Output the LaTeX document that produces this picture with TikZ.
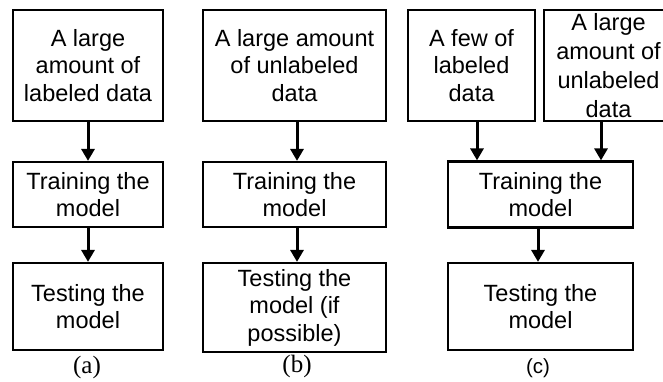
\documentclass[tikz,border=0pt]{standalone}
\usepackage{fontspec}
\setmainfont{Liberation Sans}
\newfontfamily\capserif{Liberation Serif}
\usetikzlibrary{arrows.meta}
\tikzset{
  stepbox/.style={draw, line width=2.2pt, align=center, inner sep=0pt,
    font=\fontsize{23.5}{27.5}\selectfont},
  flow/.style={line width=3pt, -{Triangle[width=13pt,length=12pt]}},
  serifcap/.style={inner sep=0pt, font=\capserif\fontsize{25}{27}\selectfont},
  sanscap/.style={inner sep=0pt, font=\fontsize{20.5}{24}\selectfont},
}
\begin{document}
\begin{tikzpicture}[x=1pt, y=-1pt]
\clip (0,0) rectangle (663,381);

% (a) supervised learning
\node[stepbox, minimum width=150, minimum height=111] (a1) at (88,65.5)
  {A large\\amount of\\labeled data};
\node[stepbox, minimum width=150, minimum height=65] (a2) at (88,194.5)
  {Training the\\model};
\node[stepbox, minimum width=150, minimum height=87] (a3) at (88,306.5)
  {Testing the\\model};
\node[serifcap] (la) at (87,367) {(a)};
\draw[flow] (a1.south) -- (a2.north);
\draw[flow] (a2.south) -- (a3.north);

% (b) unsupervised learning
\coordinate (bx) at (297,0);
\node[stepbox, minimum width=183, minimum height=111] (b1) at (294.5,65.5)
  {A large amount\\of unlabeled\\data};
\node[stepbox, minimum width=183, minimum height=65] (b2) at (294.5,194.5)
  {Training the\\model};
\node[stepbox, minimum width=183, minimum height=89] (b3) at (294.5,307.5)
  {Testing the\\model (if\\possible)};
\node[serifcap] (lb) at (297,366) {(b)};
\draw[flow] (b1.south -| bx) -- (b2.north -| bx);
\draw[flow] (b2.south -| bx) -- (b3.north -| bx);

% (c) semi-supervised learning
\coordinate (cx1) at (477,0);
\coordinate (cx2) at (601,0);
\coordinate (cx3) at (538,0);
\node[stepbox, minimum width=127, minimum height=111] (c1) at (471.5,65.5)
  {A few of\\labeled\\data};
\node[stepbox, minimum width=129, minimum height=111,
  font=\fontsize{23.5}{29}\selectfont] (c2) at (608.5,65.5)
  {A large\\amount of\\unlabeled\\data};
\node[stepbox, minimum width=185, minimum height=66] (c3) at (540.5,194.5)
  {Training the\\model};
\node[stepbox, minimum width=185, minimum height=87] (c4) at (540.5,306.5)
  {Testing the\\model};
\node[sanscap] (lc) at (538,368) {(c)};
\draw[flow] (c1.south -| cx1) -- (c3.north -| cx1);
\draw[flow] (c2.south -| cx2) -- (c3.north -| cx2);
\draw[flow] (c3.south -| cx3) -- (c4.north -| cx3);
\end{tikzpicture}
\end{document}
